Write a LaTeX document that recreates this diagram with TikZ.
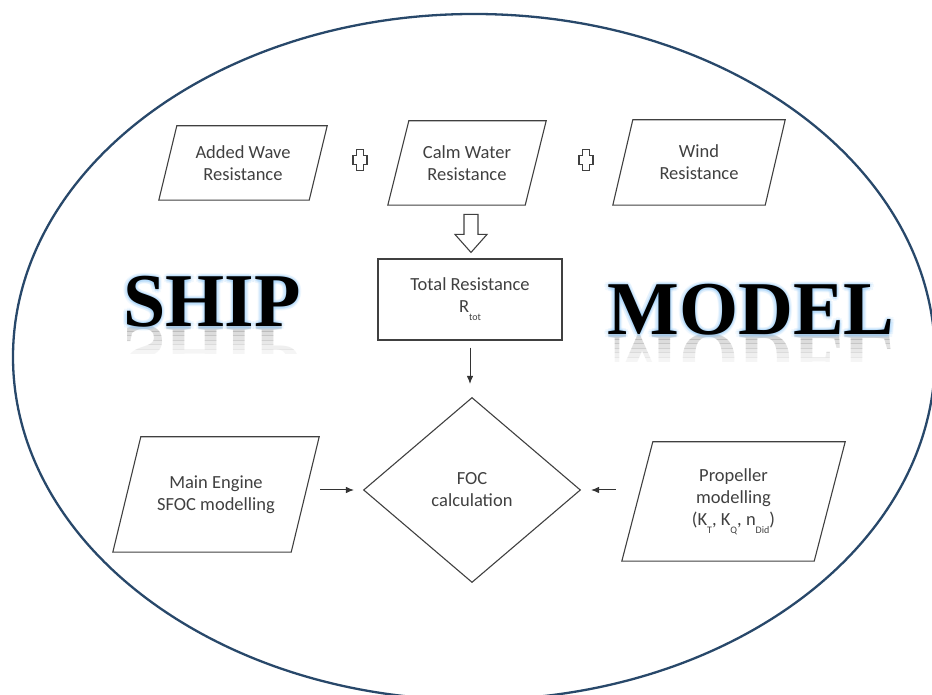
\documentclass[tikz,border=0pt]{standalone}
\usepackage{fontspec}
\setmainfont{Carlito}
\newfontfamily\titlefont{Liberation Serif}
\usetikzlibrary{shapes.geometric,arrows.meta,calc}
\definecolor{rim}{RGB}{40,72,106}
\definecolor{ink}{RGB}{64,64,64}
\definecolor{glow}{RGB}{125,190,245}
\newcommand{\lowsub}[1]{\raisebox{-8bp}{\fontsize{10bp}{10bp}\selectfont #1}}

\begin{document}
\begin{tikzpicture}[x=1bp, y=1bp,
  every node/.style={font=\fontsize{18.5bp}{22bp}\selectfont, text=ink, align=center},
  para/.style={inner sep=0pt},
  decide/.style={draw=ink, line width=1.1bp, diamond, inner sep=0pt,
    minimum width=217bp, minimum height=185bp},
  box/.style={draw=ink, line width=1.1bp, minimum width=184bp, minimum height=81bp},
  arr/.style={-{Latex[length=8bp,width=6.5bp]}, line width=1bp, black!80},
  title/.style={font=\titlefont\bfseries\fontsize{76bp}{76bp}\selectfont,
    anchor=base, inner sep=0pt}]
  \useasboundingbox (0,0) rectangle (932,695);
  \clip (0,0) rectangle (932,695);
  \draw[rim, line width=2.3bp] (474,338) ellipse [x radius=461, y radius=343];

  \node[para, minimum width=168bp, minimum height=74bp] (wave) at (243,532) {Added Wave\\Resistance};
  \node[para, minimum width=158bp, minimum height=84bp] (calmw) at (467,532) {Calm Water\\Resistance};
  \node[para, minimum width=172bp, minimum height=85bp] (wind) at (699,532.5) {Wind\\Resistance};
  \node[box] (total) at (470,395.5) {Total Resistance\\R\lowsub{tot}};
  \node[decide] (foc) at (472,205) {FOC\\calculation};
  \node[para, minimum width=206bp, minimum height=115bp] (engine) at (216,200.5) {Main Engine\\SFOC modelling};
  \node[para, minimum width=223bp, minimum height=119bp] (prop) at (733.5,193.5)
    {Propeller\\modelling\\(K\lowsub{T}, K\lowsub{Q}, n\lowsub{Did})};
  \foreach \n/\s in {wave/18,calmw/21,wind/20,engine/28,prop/31}
    \draw[ink, line width=1.1bp] (\n.south west) -- ([xshift=-\s bp]\n.south east)
      -- (\n.north east) -- ([xshift=\s bp]\n.north west) -- cycle;

  \foreach \cx in {360,586} {
    \draw[ink, line width=1.1bp, shift={(\cx,535)}] (-3.5,10.5) -- (3.5,10.5) -- (3.5,4.5) -- (7,4.5)
      -- (7,-4.5) -- (3.5,-4.5) -- (3.5,-10.5) -- (-3.5,-10.5) -- (-3.5,-4.5) -- (-7,-4.5)
      -- (-7,4.5) -- (-3.5,4.5) -- cycle;
  }
  \draw[ink, line width=1.1bp, fill=white] ([xshift=1bp, yshift=6bp]total.north) -- ++(16,18) -- ++(-9,0)
    -- ++(0,20) -- ++(-14,0) -- ++(0,-20) -- ++(-9,0) -- cycle;

  \draw[arr, shorten <=7bp, shorten >=13bp] (total.south) -- (total.south |- foc.north);
  \draw[arr, shorten <=1bp, shorten >=9bp] (engine.east |- foc.west) -- (foc.west);
  \draw[arr, shorten <=6bp, shorten >=10bp] (prop.west |- foc.east) -- (foc.east);

  \foreach \k [evaluate=\k as \op using 0.33-0.05*\k] in {0,...,5} {
    \begin{scope}
      \clip (100,368-\k*4.5) rectangle (330,368-\k*4.5-4.5);
      \node[title, text=gray, opacity=\op] (shipr\k) at (212,368) {\scalebox{1}[-1]{SHIP}};
    \end{scope}
    \begin{scope}
      \clip (590,360-\k*4.5) rectangle (920,360-\k*4.5-4.5);
      \node[title, text=gray, opacity=\op] (modelr\k) at (751,360) {\scalebox{1}[-1]{MODEL}};
    \end{scope}
  }
  \foreach \a in {0,45,...,315} {
    \foreach \r in {1.5,3.5} {
      \node[title, text=glow, opacity=.11] (shipg\a\r) at ($(212,368)+(\a:\r)$) {SHIP};
      \node[title, text=glow, opacity=.11] (modelg\a\r) at ($(751,360)+(\a:\r)$) {MODEL};
    }
  }
  \node[title, text=black] (ship) at (212,368) {SHIP};
  \node[title, text=black] (model) at (751,360) {MODEL};
\end{tikzpicture}
\end{document}
